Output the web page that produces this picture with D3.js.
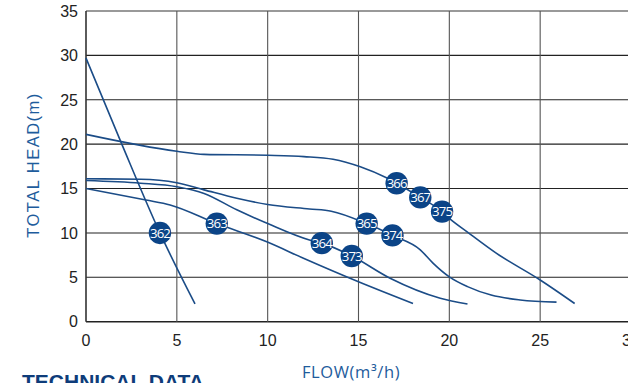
<!DOCTYPE html>
<html>
<head>
<meta charset="utf-8">
<script src="https://cdn.jsdelivr.net/npm/d3@7"></script>
<style>
html,body{margin:0;padding:0;background:#fff;overflow:hidden;}
svg{display:block;}
</style>
</head>
<body>
<svg id="chart" width="628" height="383"></svg>
<script>
// ---- data ----
const xTicks = [0, 5, 10, 15, 20, 25, 30];
const yTicks = [0, 5, 10, 15, 20, 25, 30, 35];

const flow362 = [0, 1.97, 4.07, 6];
const head362 = [29.7, 20, 10, 2];

const flowTop = [0, 5, 6.5, 10, 12, 13.6, 15.1, 16.6, 17.1, 18.4, 19.6, 20.0, 21.0, 22.6, 25.0, 26.9];
const headTop = [21.1, 19.2, 18.85, 18.75, 18.6, 18.3, 17.45, 16.15, 15.6, 14.0, 12.4, 11.65, 10.1, 7.7, 4.7, 2.05];

const flow365 = [0, 3, 5, 6.5, 8.3, 10, 12.3, 13.5, 15.45, 16.87, 18.4, 19.1, 20.0, 21.0, 22.3, 23.9, 25.9];
const head365 = [16.1, 16.05, 15.65, 14.85, 13.9, 13.2, 12.7, 12.45, 11.05, 9.72, 8.1, 6.6, 5.05, 3.95, 3.0, 2.45, 2.2];

const flow364 = [0, 3, 5, 6.5, 8.3, 10, 12.3, 12.98, 14.63, 16.74, 19.5, 21.0];
const head364 = [15.9, 15.6, 15.2, 14.45, 12.6, 11.05, 9.2, 8.85, 7.4, 4.9, 2.65, 2.0];

const flow363 = [0, 3.3, 4.63, 7.2, 9.95, 11.97, 15.0, 18.0];
const head363 = [15.0, 13.7, 13.15, 11.05, 9.0, 7.15, 4.5, 2.05];

const labelNames = ["362", "363", "364", "373", "365", "374", "366", "367", "375"];
const labelFlows = [4.07, 7.2, 12.98, 14.63, 15.45, 16.87, 17.1, 18.4, 19.6];
const labelHeads = [10.0, 11.05, 8.85, 7.4, 11.05, 9.72, 15.6, 14.0, 12.4];

// ---- drawing ----
const svg = d3.select("#chart");
const x = d3.scaleLinear().domain([0, 30]).range([86, 631]);
const y = d3.scaleLinear().domain([0, 35]).range([321.7, 11]);

const lineCol = "#1b4c87";
const dotCol = "#0b4487";

// horizontal grid lines
svg.append("g").selectAll("line").data(yTicks).join("line")
  .attr("x1", x(0)).attr("x2", x(30) + 5)
  .attr("y1", d => y(d)).attr("y2", d => y(d))
  .attr("stroke", d => d === 35 ? "#777" : "#222")
  .attr("stroke-width", d => (d === 0 || d === 35) ? 1.6 : 1.1);

// vertical grid lines
svg.append("g").selectAll("line").data(xTicks).join("line")
  .attr("x1", d => x(d)).attr("x2", d => x(d))
  .attr("y1", y(35)).attr("y2", y(0))
  .attr("stroke", d => d === 0 ? "#333" : "#555")
  .attr("stroke-width", d => d === 0 ? 1.6 : 1.1);

// y tick labels
svg.append("g").selectAll("text").data(yTicks).join("text")
  .attr("x", 78).attr("y", d => y(d)).attr("dy", "0.36em")
  .attr("text-anchor", "end")
  .attr("font-family", "Liberation Sans, Arial, sans-serif")
  .attr("font-size", 16).attr("fill", "#222")
  .text(d => d);

// x tick labels
svg.append("g").selectAll("text").data(xTicks).join("text")
  .attr("x", d => x(d)).attr("y", 345.5)
  .attr("text-anchor", "middle")
  .attr("font-family", "Liberation Sans, Arial, sans-serif")
  .attr("font-size", 16).attr("fill", "#222")
  .text(d => d);

// curves
const curves = [
  [flow362, head362],
  [flowTop, headTop],
  [flow365, head365],
  [flow364, head364],
  [flow363, head363]
];
const lineGen = d3.line().x(d => x(d[0])).y(d => y(d[1])).curve(d3.curveMonotoneX);
svg.append("g").selectAll("path").data(curves).join("path")
  .attr("d", c => lineGen(c[0].map((f, i) => [f, c[1][i]])))
  .attr("fill", "none").attr("stroke", lineCol).attr("stroke-width", 1.6);

// labels
const labels = labelNames.map((n, i) => ({ n, f: labelFlows[i], h: labelHeads[i] }));
const lg = svg.append("g").selectAll("g").data(labels).join("g")
  .attr("transform", d => `translate(${x(d.f)},${y(d.h)})`);
lg.append("circle").attr("r", 11.2).attr("fill", dotCol);
lg.append("text").attr("text-anchor", "middle").attr("dy", "0.36em")
  .attr("font-family", "Open Sans, Noto Sans, sans-serif")
  .attr("font-size", 13.2).attr("letter-spacing", -0.9).attr("fill", "#fff")
  .text(d => d.n);

// axis titles
svg.append("text")
  .attr("transform", "translate(39,165) rotate(-90)")
  .attr("text-anchor", "middle")
  .attr("font-family", "Liberation Sans, Arial, sans-serif")
  .attr("font-size", 16.5).attr("letter-spacing", 1.5).attr("fill", "#1e5c9c")
  .text("TOTAL HEAD(m)");

svg.append("text")
  .attr("x", 302).attr("y", 378)
  .attr("font-family", "Open Sans, Noto Sans, sans-serif")
  .attr("font-size", 16.5).attr("letter-spacing", 0.6).attr("fill", "#1e5c9c")
  .text("FLOW(m³/h)");

svg.append("text")
  .attr("x", 22).attr("y", 388.5)
  .attr("font-family", "Liberation Sans, Arial, sans-serif")
  .attr("font-weight", "bold")
  .attr("font-size", 21).attr("fill", "#0e3c7a")
  .text("TECHNICAL DATA");
</script>
</body>
</html>
